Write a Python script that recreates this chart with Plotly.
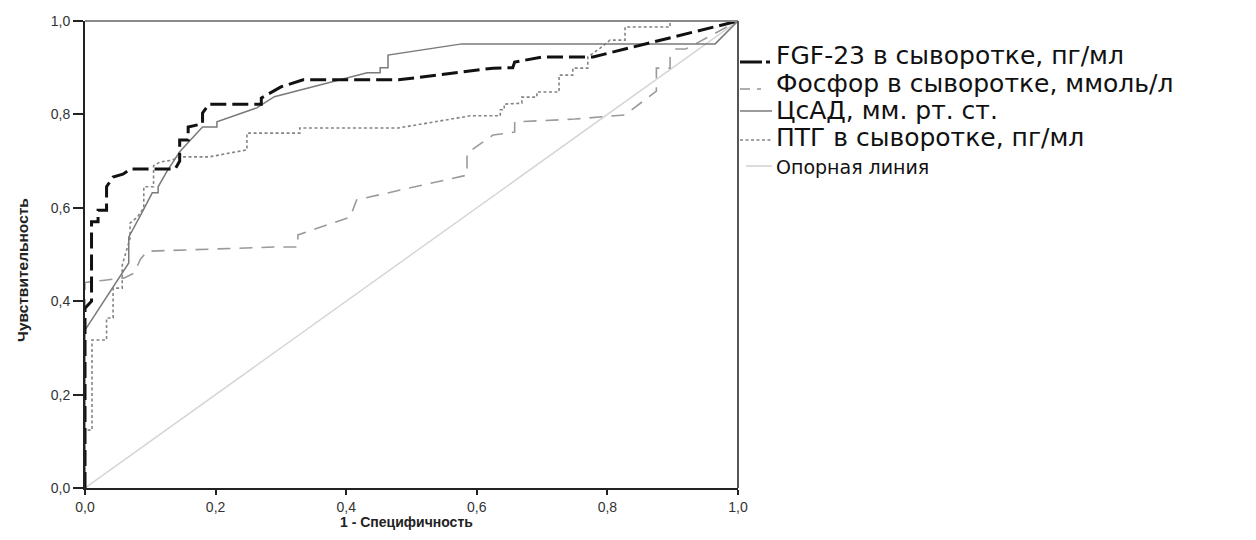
import plotly.graph_objects as go

# ---------------- data ----------------
fgf_x = [0, 0, 0.01, 0.01, 0.02, 0.02, 0.033, 0.033, 0.043, 0.058, 0.07, 0.138, 0.145, 0.145,
         0.158, 0.158, 0.18, 0.18, 0.19, 0.27, 0.27, 0.30, 0.334, 0.48, 0.625, 0.655, 0.658,
         0.70, 0.778, 1.0]
fgf_y = [0, 0.385, 0.40, 0.57, 0.57, 0.595, 0.595, 0.645, 0.666, 0.672, 0.683, 0.683, 0.70, 0.745,
         0.745, 0.773, 0.78, 0.803, 0.822, 0.822, 0.835, 0.859, 0.874, 0.874, 0.899, 0.90, 0.912,
         0.923, 0.923, 1.0]

phos_x = [0, 0, 0.03, 0.06, 0.075, 0.085, 0.095, 0.29, 0.326, 0.326, 0.406, 0.416, 0.585, 0.585,
          0.625, 0.658, 0.658, 0.75, 0.827, 0.861, 0.875, 0.875, 0.896, 0.896, 0.905, 0.92, 1.0]
phos_y = [0, 0.44, 0.445, 0.45, 0.46, 0.49, 0.507, 0.516, 0.516, 0.542, 0.58, 0.617, 0.67, 0.717,
          0.756, 0.762, 0.784, 0.79, 0.799, 0.835, 0.85, 0.899, 0.899, 0.923, 0.94, 0.94, 1.0]

sbp_x = [0, 0, 0.067, 0.067, 0.087, 0.103, 0.112, 0.112, 0.125, 0.145, 0.18, 0.202, 0.202, 0.263,
         0.29, 0.432, 0.452, 0.452, 0.464, 0.464, 0.577, 0.965, 1.0]
sbp_y = [0, 0.338, 0.482, 0.537, 0.589, 0.632, 0.632, 0.645, 0.677, 0.72, 0.773, 0.773, 0.784, 0.814,
         0.838, 0.889, 0.889, 0.90, 0.90, 0.927, 0.951, 0.951, 1.0]

pth_x = [0, 0, 0.0107, 0.0107, 0.033, 0.033, 0.043, 0.043, 0.057, 0.057, 0.069, 0.069, 0.08, 0.09,
         0.09, 0.105, 0.105, 0.115, 0.133, 0.145, 0.19, 0.248, 0.248, 0.329, 0.329, 0.48, 0.59,
         0.636, 0.636, 0.642, 0.642, 0.669, 0.669, 0.692, 0.692, 0.726, 0.726, 0.747, 0.747, 0.77,
         0.77, 0.789, 0.804, 0.827, 0.827, 0.896, 0.896, 1.0]
pth_y = [0, 0.124, 0.124, 0.317, 0.317, 0.364, 0.364, 0.428, 0.428, 0.477, 0.535, 0.567, 0.58, 0.60,
         0.645, 0.645, 0.69, 0.698, 0.702, 0.709, 0.709, 0.724, 0.76, 0.76, 0.771, 0.771, 0.797,
         0.797, 0.81, 0.81, 0.822, 0.824, 0.837, 0.837, 0.848, 0.848, 0.884, 0.884, 0.899, 0.899,
         0.923, 0.942, 0.959, 0.959, 0.987, 0.987, 1.0, 1.0]

ref_x = [0, 1]
ref_y = [0, 1]

tick_vals = [0, 0.2, 0.4, 0.6, 0.8, 1.0]
tick_text = ["0,0", "0,2", "0,4", "0,6", "0,8", "1,0"]

legend_labels = ["FGF-23 в сыворотке, пг/мл", "Фосфор в сыворотке, ммоль/л",
                 "ЦсАД, мм. рт. ст.", "ПТГ в сыворотке, пг/мл", "Опорная линия"]
x_title = "1 - Специфичность"
y_title = "Чувствительность"

# ---------------- layout geometry ----------------
W, H = 1256, 540
L, R, T, B = 85, 738, 21, 488


def px(x):
    return (x - L) / (R - L)


def py(y):
    return (B - y) / (B - T)


fig = go.Figure()
fig.add_trace(go.Scatter(x=ref_x, y=ref_y, mode="lines",
                         line=dict(color="#d6d6d6", width=1.5), hoverinfo="skip"))
fig.add_trace(go.Scatter(x=phos_x, y=phos_y, mode="lines",
                         line=dict(color="#9a9a9a", width=1.6, dash="13px,9px")))
fig.add_trace(go.Scatter(x=pth_x, y=pth_y, mode="lines",
                         line=dict(color="#858585", width=1.6, dash="3px,2.5px")))
fig.add_trace(go.Scatter(x=sbp_x, y=sbp_y, mode="lines",
                         line=dict(color="#7a7a7a", width=1.5)))
fig.add_trace(go.Scatter(x=fgf_x, y=fgf_y, mode="lines",
                         line=dict(color="#111111", width=3, dash="16px,6px")))

axis_common = dict(range=[0, 1], tickvals=tick_vals, ticktext=tick_text, showgrid=False,
                   zeroline=False, showline=True, linecolor="#222222", linewidth=2,
                   ticks="outside", tickcolor="#222222", tickwidth=1.5,
                   tickfont=dict(family="Liberation Sans, Arial", size=14, color="#333333"))

fig.update_layout(
    width=W, height=H,
    margin=dict(l=L, r=W - R, t=T, b=H - B),
    paper_bgcolor="white", plot_bgcolor="white",
    showlegend=False,
    xaxis=dict(**axis_common, ticklen=5),
    yaxis=dict(**axis_common, ticklen=10),
)

# top and right frame lines (gray)
fig.add_shape(type="line", xref="paper", yref="paper", x0=0, x1=1, y0=1, y1=1,
              line=dict(color="#8a8a8a", width=2))
fig.add_shape(type="line", xref="paper", yref="paper", x0=1, x1=1, y0=0, y1=1,
              line=dict(color="#555555", width=2))

# axis titles
fig.add_annotation(text=f"<b>{x_title}</b>", xref="paper", yref="paper",
                   x=px(406), y=py(522), showarrow=False, xanchor="center", yanchor="middle",
                   font=dict(family="Liberation Sans, Arial", size=14, color="#222222"))
fig.add_annotation(text=f"<b>{y_title}</b>", xref="paper", yref="paper",
                   x=px(22), y=py(270), showarrow=False, xanchor="center", yanchor="middle",
                   textangle=-90,
                   font=dict(family="Liberation Sans, Arial", size=15.5, color="#222222"))

# custom legend
text_y = [55, 83, 110, 137, 167]
line_y = [62, 89, 111, 140, 166]
sizes = [25, 25, 25, 25, 19]
for lab, ty, sz in zip(legend_labels, text_y, sizes):
    fig.add_annotation(text=lab, xref="paper", yref="paper", x=px(774), y=py(ty),
                       showarrow=False, xanchor="left", yanchor="middle",
                       font=dict(family="DejaVu Sans", size=sz, color="#111111"))

# legend samples
fig.add_shape(type="line", xref="paper", yref="paper", x0=px(740), x1=px(762),
              y0=py(line_y[0]), y1=py(line_y[0]), line=dict(color="#111111", width=3))
fig.add_shape(type="line", xref="paper", yref="paper", x0=px(766), x1=px(770),
              y0=py(line_y[0]), y1=py(line_y[0]), line=dict(color="#111111", width=3))
fig.add_shape(type="line", xref="paper", yref="paper", x0=px(740), x1=px(750),
              y0=py(line_y[1]), y1=py(line_y[1]), line=dict(color="#9a9a9a", width=1.6))
fig.add_shape(type="line", xref="paper", yref="paper", x0=px(757), x1=px(761),
              y0=py(line_y[1]), y1=py(line_y[1]), line=dict(color="#9a9a9a", width=1.6))
fig.add_shape(type="line", xref="paper", yref="paper", x0=px(740), x1=px(772),
              y0=py(line_y[2]), y1=py(line_y[2]), line=dict(color="#7a7a7a", width=1.5))
fig.add_shape(type="line", xref="paper", yref="paper", x0=px(740), x1=px(772),
              y0=py(line_y[3]), y1=py(line_y[3]),
              line=dict(color="#858585", width=1.6, dash="3px,2.5px"))
fig.add_shape(type="line", xref="paper", yref="paper", x0=px(746), x1=px(772),
              y0=py(line_y[4]), y1=py(line_y[4]), line=dict(color="#d0d0d0", width=1.5))

fig.write_html("out.html")
